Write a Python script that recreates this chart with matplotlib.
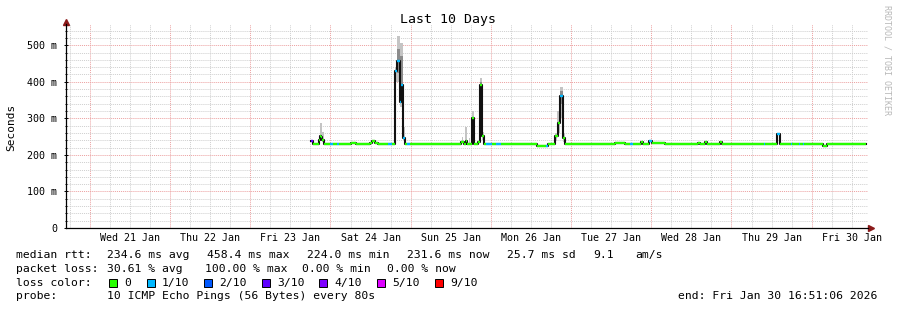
import numpy as np
import matplotlib
matplotlib.use("Agg")
import matplotlib.pyplot as plt
from matplotlib.patches import Rectangle

# time axis: hours since Fri 23 Jan 00:00, window = last 10 days
t_start = -55.15   # Tue 20 Jan 16:51
t_end = 184.85     # Fri 30 Jan 16:51

day_labels = ["Wed 21 Jan", "Thu 22 Jan", "Fri 23 Jan", "Sat 24 Jan", "Sun 25 Jan",
              "Mon 26 Jan", "Tue 27 Jan", "Wed 28 Jan", "Thu 29 Jan", "Fri 30 Jan"]
day_noon = [-36, -12, 12, 36, 60, 84, 108, 132, 156, 180]

# median rtt (ms), step segments starting at med_t, loss out of 10 pings
med_t = [18.17, 18.77, 20.56, 20.86, 21.16, 21.46, 22.06, 23.85, 24.75, 25.95,
         26.55, 30.14, 31.63, 35.82, 36.42, 37.32, 38.22, 41.21, 42.41, 43.31,
         43.90, 44.80, 45.10, 45.70, 46.30, 46.90, 47.80, 63.06, 63.95, 64.55,
         64.85, 66.35, 66.95, 68.15, 68.75, 69.35, 69.95, 70.54, 72.34, 73.53,
         75.03, 85.80, 88.50, 89.09, 91.19, 92.08, 92.68, 93.58, 94.18, 109.14,
         112.13, 113.63, 114.53, 116.92, 117.52, 119.32, 120.21, 121.11, 124.11, 127.10,
         130.69, 133.98, 134.58, 136.07, 136.67, 140.56, 141.16, 145.65, 148.04, 153.73,
         154.03, 157.62, 158.52, 161.81, 162.11, 164.20, 164.50, 165.40, 165.70, 166.60,
         167.49, 171.38, 172.58, 179.46]
med_ms = [239, 230, 242, 253, 248, 240, 230, 229, 230, 229,
          230, 232, 230, 233, 237, 232, 230, 230, 230, 429,
          457, 345, 391, 247, 230, 230, 229, 234, 231, 238,
          229, 302, 230, 234, 390, 251, 229, 229, 229, 229,
          229, 225, 225, 229, 251, 288, 361, 246, 230, 232,
          230, 230, 230, 234, 231, 237, 233, 232, 230, 229,
          230, 233, 230, 234, 230, 234, 230, 231, 229, 229,
          229, 258, 229, 229, 229, 229, 229, 229, 229, 231,
          229, 224, 229, 230.5]
med_loss = [3, 0, 0, 0, 0, 0, 0, 1, 0, 1,
            0, 0, 0, 0, 0, 0, 0, 1, 0, 1,
            1, 1, 1, 1, 0, 1, 0, 0, 0, 0,
            0, 0, 0, 0, 0, 0, 0, 1, 0, 1,
            0, 0, 1, 0, 0, 0, 1, 0, 0, 0,
            0, 1, 0, 0, 0, 1, 0, 0, 0, 0,
            0, 0, 0, 0, 0, 0, 0, 0, 0, 1,
            0, 1, 0, 1, 0, 1, 0, 1, 0, 0,
            0, 0, 0, 0]
med_last = 184.25

# smoke (spread of the 10 pings) around the spikes
smoke_t0 = [20.56, 20.86, 21.46, 43.31, 43.90, 44.80, 45.70, 63.35, 64.25, 65.45,
            66.35, 68.75, 69.35, 91.19, 91.78, 92.68, 93.58]
smoke_t1 = [20.86, 21.46, 22.06, 43.90, 44.80, 45.70, 46.30, 63.75, 64.85, 65.85,
            66.95, 69.35, 69.95, 91.78, 92.68, 93.58, 94.18]
smoke_lo = [232, 238, 234, 400, 400, 332, 242, 232, 232, 231, 240, 330, 240, 238, 260, 300, 235]
smoke_hi = [252, 288, 262, 440, 525, 505, 275, 250, 275, 245, 319, 409, 262, 260, 319, 385, 260]
# darker core of the smoke
core_t0 = [43.90, 44.80, 68.75, 92.68]
core_t1 = [44.80, 45.70, 69.35, 93.58]
core_lo = [425, 360, 380, 340]
core_hi = [490, 470, 400, 375]

loss_colors = {0: "#26ff00", 1: "#00b8ff", 2: "#0059ff", 3: "#5e00ff",
               4: "#7e00ff", 5: "#dd00ff", 9: "#ff0000"}
loss_names = ["0", "1/10", "2/10", "3/10", "4/10", "5/10", "9/10"]
loss_keys = [0, 1, 2, 3, 4, 5, 9]

W, H = 897, 310
mono = "DejaVu Sans Mono"
fig = plt.figure(figsize=(W / 100, H / 100), dpi=100)
fig.patch.set_facecolor("white")
ax = fig.add_axes([66 / W, 82 / H, 802 / W, 204 / H])

ax.set_xlim(t_start, t_end)
ax.set_ylim(0, 558)

# grid
ax.set_xticks(np.arange(-48, 185, 24))
ax.set_xticks(np.arange(-54, 185, 6), minor=True)
ax.set_yticks(np.arange(0, 501, 100))
ax.set_yticks(np.arange(0, 541, 20), minor=True)
ax.grid(which="minor", color="#cfcfcf", linestyle=(0, (1, 1)), lw=0.7)
ax.grid(which="major", color="#eca0a0", linestyle=(0, (1, 1)), lw=0.7)
ax.set_axisbelow(True)
ax.set_xticklabels([])
ax.set_yticklabels(["0"] + ["%d m" % v for v in range(100, 501, 100)],
                   family=mono, fontsize=7.2)
ax.tick_params(axis="x", which="both", length=0)
ax.tick_params(axis="y", which="major", length=3, direction="inout", width=0.7, pad=5)
ax.tick_params(axis="y", which="minor", length=2, direction="inout", width=0.7)

for sp in ["top", "right"]:
    ax.spines[sp].set_visible(False)
for sp in ["left", "bottom"]:
    ax.spines[sp].set_linewidth(0.9)
    ax.spines[sp].set_color("black")
ax.plot([1.004], [0], marker=">", color="#8b1a1a", ms=4, transform=ax.transAxes, clip_on=False)
ax.plot([0], [1.012], marker="^", color="#8b1a1a", ms=4, transform=ax.transAxes, clip_on=False)

for i, lab in enumerate(day_labels):
    ax.text(day_noon[i], -0.05, lab, transform=ax.get_xaxis_transform(),
            ha="center", va="center", family=mono, fontsize=7.2)

# smoke
ax.bar(smoke_t0, np.subtract(smoke_hi, smoke_lo), width=np.subtract(smoke_t1, smoke_t0),
       bottom=smoke_lo, align="edge", color="#c4c4c4", lw=0)
ax.bar(core_t0, np.subtract(core_hi, core_lo), width=np.subtract(core_t1, core_t0),
       bottom=core_lo, align="edge", color="#8c8c8c", lw=0)

# median: black steps, coloured by loss on the flat parts
t_edges = med_t + [med_last]
ax.step(t_edges, med_ms + [med_ms[-1]], where="post", color="#111111", lw=1.5)
ax.hlines(med_ms, med_t, t_edges[1:], colors=[loss_colors[l] for l in med_loss], lw=1.7)

fig.text(448 / W, 1 - 19 / H, "Last 10 Days", ha="center", va="center",
         family=mono, fontsize=9.5)
fig.text(11 / W, 1 - 127 / H, "Seconds", rotation=90, ha="center", va="center",
         family=mono, fontsize=8)
fig.text(887 / W, 1 - 5 / H, "RRDTOOL / TOBI OETIKER", rotation=270, ha="center", va="top",
         family=mono, fontsize=6, color="#b8b8b8")

# legend
fs = 8.2
def ftext(x, y, s):
    fig.text(x / W, 1 - y / H, s, family=mono, fontsize=fs, va="center")

ftext(16, 255, "median rtt:")
for x, s in [(107, "234.6 ms avg"), (207, "458.4 ms max"), (307, "224.0 ms min"),
             (407, "231.6 ms now"), (507, "25.7 ms sd"), (593, "9.1"), (635, "am/s")]:
    ftext(x, 255, s)
ftext(16, 269, "packet loss:")
for x, s in [(107, "30.61 % avg"), (205, "100.00 % max"), (302, "0.00 % min"),
             (387, "0.00 % now")]:
    ftext(x, 269, s)
ftext(16, 283, "loss color:")
box_x = [109, 147, 204, 262, 319, 377, 435]
for i, k in enumerate(loss_keys):
    fig.patches.append(Rectangle((box_x[i] / W, 1 - 287 / H), 8 / W, 8 / H,
                                 transform=fig.transFigure, facecolor=loss_colors[k],
                                 edgecolor="black", lw=0.7))
    ftext(box_x[i] + 15, 283, loss_names[i])
ftext(16, 296, "probe:")
ftext(107, 296, "10 ICMP Echo Pings (56 Bytes) every 80s")
ftext(678, 296, "end: Fri Jan 30 16:51:06 2026")

fig.savefig("out.png", dpi=100, facecolor="white")
